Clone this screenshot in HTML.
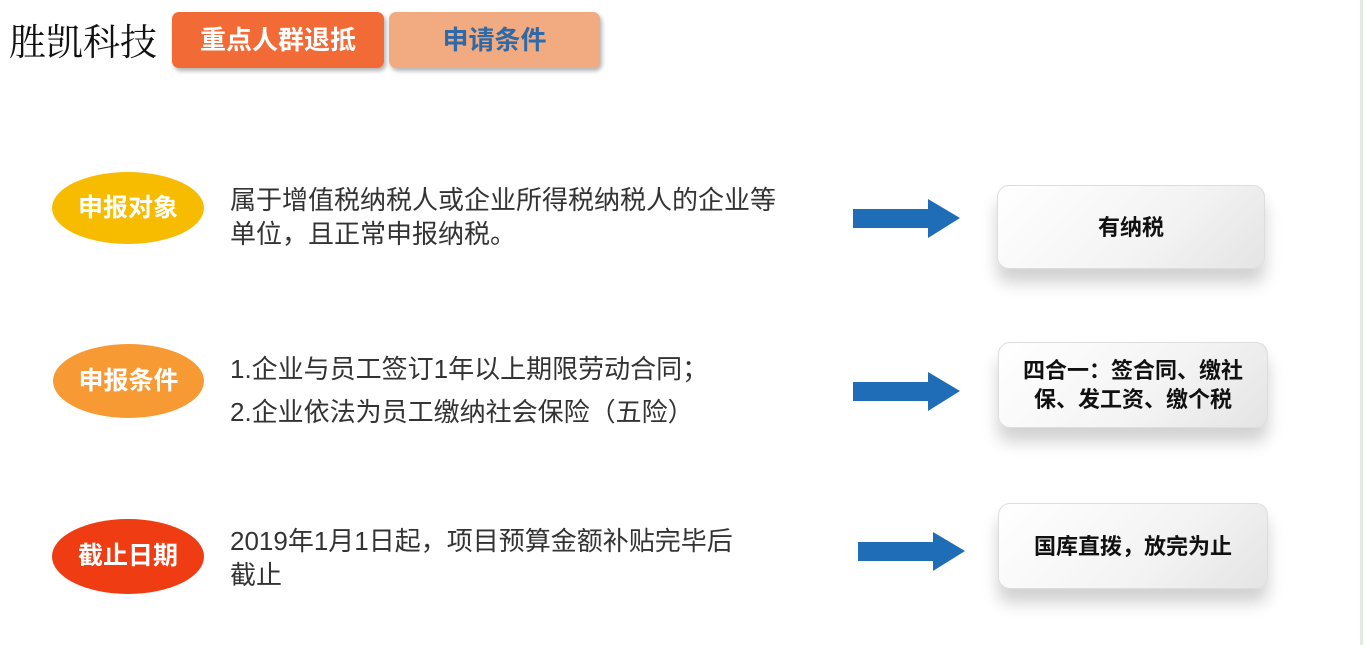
<!DOCTYPE html>
<html><head><meta charset="utf-8"><style>
body{margin:0;width:1367px;height:645px;background:#fff;position:relative;overflow:hidden;font-family:"Liberation Sans","Noto Sans CJK SC",sans-serif}
.a{position:absolute}
.tab{position:absolute;top:12px;height:56px;border-radius:7px;font-weight:bold;font-size:26px;line-height:56px;text-align:center;box-shadow:2px 3px 4px rgba(0,0,0,.3)}
.ell{position:absolute;border-radius:50%;color:#fff;font-weight:bold;font-size:25px;text-align:center}
.txt{position:absolute;left:230px;font-size:26px;color:#333;line-height:34px}
.box{position:absolute;border-radius:12px;background:linear-gradient(135deg,#fff 0%,#f3f3f3 60%,#e4e4e4 100%);border:1px solid #ddd;box-shadow:0 14px 16px rgba(0,0,0,.18);font-weight:bold;font-size:22px;color:#111;text-align:center;display:flex;align-items:center;justify-content:center;line-height:29px}
</style></head><body>
<div class="a" style="left:1360px;top:0;width:3px;height:645px;background:#dfeedd"></div>
<div class="a" style="left:9px;top:12px;font-size:37px;font-family:'Liberation Serif','Noto Serif CJK SC',serif;color:#111">胜凯科技</div>
<div class="tab" style="left:172px;width:212px;background:#f26a35;color:#fff">重点人群退抵</div>
<div class="tab" style="left:389px;width:211px;background:#f2ab80;color:#2f6aa8">申请条件</div>

<div class="ell" style="left:52px;top:172px;width:152px;height:72px;line-height:72px;background:#f7bb00">申报对象</div>
<div class="ell" style="left:53px;top:344px;width:151px;height:74px;line-height:74px;background:#f79a34">申报条件</div>
<div class="ell" style="left:52px;top:519px;width:152px;height:75px;line-height:75px;background:#f03c12">截止日期</div>

<div class="txt" style="top:183px">属于增值税纳税人或企业所得税纳税人的企业等<br>单位，且正常申报纳税。</div>
<div class="txt" style="top:348px;line-height:43px">1.企业与员工签订1年以上期限劳动合同；<br>2.企业依法为员工缴纳社会保险（五险）</div>
<div class="txt" style="top:524px">2019年1月1日起，项目预算金额补贴完毕后<br>截止</div>

<svg class="a" style="left:0;top:0" width="1367" height="645">
<g fill="#1f6db6">
<polygon points="853,209 928,209 928,199 960,218 928,238 928,228 853,228"/>
<polygon points="853,382 928,382 928,372 960,391 928,411 928,401 853,401"/>
<polygon points="858,542 933,542 933,532 965,551 933,571 933,561 858,561"/>
</g>
</svg>

<div class="box" style="left:997px;top:185px;width:266px;height:82px">有纳税</div>
<div class="box" style="left:998px;top:342px;width:268px;height:84px">四合一：签合同、缴社<br>保、发工资、缴个税</div>
<div class="box" style="left:998px;top:503px;width:268px;height:84px">国库直拨，放完为止</div>
</body></html>
